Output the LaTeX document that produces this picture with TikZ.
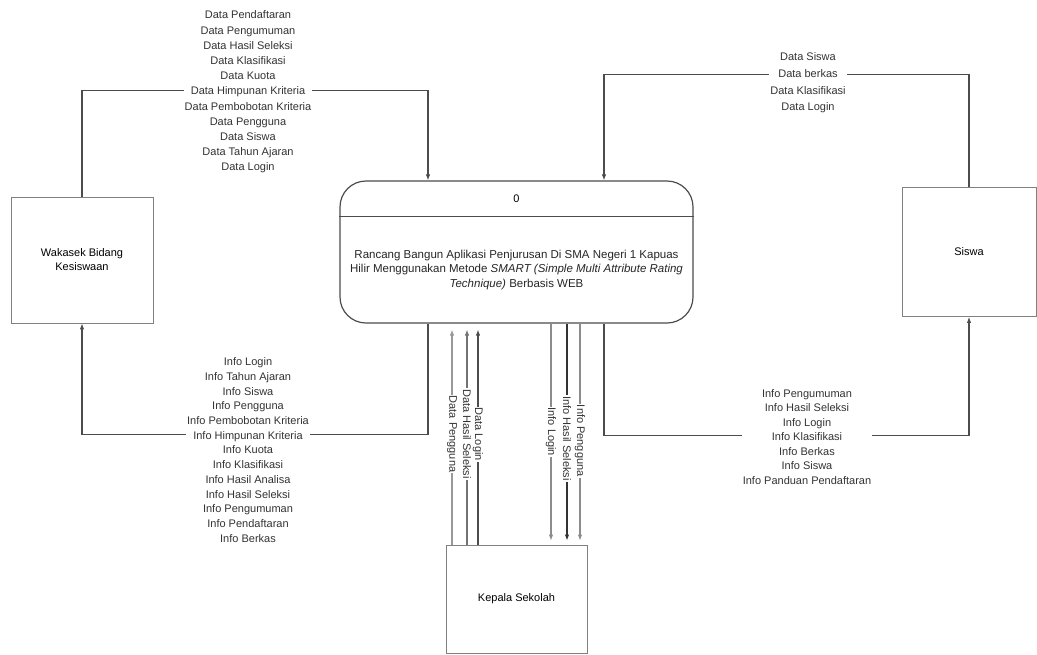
\documentclass[tikz,border=0pt]{standalone}
\usepackage{fontspec}
\setmainfont{Liberation Sans}
\usepackage{tikz}
\usetikzlibrary{arrows.meta}
\usetikzlibrary{positioning}
\tikzset{
    entity/.style={
           rectangle,
           draw=black!50, line width=0.8pt,
           inner sep=2pt,
           text centered,
           align=center,
           },
    process/.style={
           rectangle,
           rounded corners=26pt,
           draw=black!70, line width=1.2pt,
           minimum width=353pt,
           minimum height=142pt,
           },
    flow/.style={
           draw=black!70, line width=1.1pt,
           },
    lbl/.style={
           fill=white,
           inner sep=1pt,
           align=center,
           text=black!80,
           },
    vlbl/.style={
           lbl,
           rotate=-90,
           },
}

\begin{document}
\begin{tikzpicture}[x=1pt,y=-1pt,->,>={Latex[length=6pt,width=4.5pt]},
  font=\fontsize{11}{14}\selectfont]
 \path[use as bounding box, fill=white] (0,0) rectangle (1037,654);

 % process 0 in the middle
 \node[process] (PROC) at (516.5,252) {};
 \node (PROCID) at ([yshift=-18pt]PROC.north) {0};
 \draw[-, draw=black!70, line width=1.2pt]
  ([yshift=-36pt]PROC.north west) -- ([yshift=-36pt]PROC.north east);
 \node[align=center, text=black!85,
  font=\fontsize{11.5}{14.5}\selectfont] (PROCTXT) at ([yshift=-18pt]PROC.center)
 {Rancang Bangun Aplikasi Penjurusan Di SMA Negeri 1 Kapuas\\
  Hilir Menggunakan Metode \textit{SMART (Simple Multi Attribute Rating}\\
  \textit{Technique)} Berbasis WEB};

 % external entities
 \node[entity,		% layout (defined above)
  minimum width=142pt,
  minimum height=126pt,
  left of=PROC,		% left of the process
  node distance=434.5pt,
  yshift=-8pt] (WAKA)
 {Wakasek Bidang\\Kesiswaan};

 \node[entity,
  minimum width=134pt,
  minimum height=129pt,
  right of=PROC,	% right of the process
  node distance=452.5pt] (SISWA)
 {Siswa};

 \node[entity,
  minimum width=141pt,
  minimum height=108pt,
  below of=PROC,	% under the process
  node distance=347pt] (KEPALA)
 {Kepala Sekolah};

 % flows left and right
 \draw[flow] (WAKA.north) -- ++(0,-106) -| ([xshift=-88.5pt]PROC.north);
 \draw[flow] (SISWA.north) -- ++(0,-113) -| ([xshift=87.5pt]PROC.north);
 \draw[flow] ([xshift=-88.5pt]PROC.south) -- ++(0,111) -| (WAKA.south);
 \draw[flow] ([xshift=87.5pt]PROC.south) -- ++(0,112) -| (SISWA.south);

 % flows to and from Kepala Sekolah
 \draw[flow, draw=black!40, shorten >=6pt] ([xshift=-64.5pt]KEPALA.north)
  -- node[vlbl]{Data Pengguna} ([xshift=-64.5pt]PROC.south);
 \draw[flow, draw=black!55, shorten >=6pt] ([xshift=-49.5pt]KEPALA.north)
  -- node[vlbl]{Data Hasil Seleksi} ([xshift=-49.5pt]PROC.south);
 \draw[flow, shorten >=6pt] ([xshift=-38.5pt]KEPALA.north)
  -- node[vlbl]{Data Login} ([xshift=-38.5pt]PROC.south);
 \draw[flow, draw=black!45, shorten >=4pt] ([xshift=34.5pt]PROC.south)
  -- node[vlbl, pos=0.49]{Info Login} ([xshift=34.5pt]KEPALA.north);
 \draw[flow, draw=black!80, line width=1.5pt, shorten >=4pt] ([xshift=50.5pt]PROC.south)
  -- node[vlbl, pos=0.52]{Info Hasil Seleksi} ([xshift=50.5pt]KEPALA.north);
 \draw[flow, draw=black!45, shorten >=4pt] ([xshift=63.5pt]PROC.south)
  -- node[vlbl, pos=0.53]{Info Pengguna} ([xshift=63.5pt]KEPALA.north);

 % labels of the left and right flows
 \node[lbl, font=\fontsize{11}{15.2}\selectfont] (DATAWAKA) at (248,92)
 {Data Pendaftaran\\Data Pengumuman\\Data Hasil Seleksi\\Data Klasifikasi\\
  Data Kuota\\Data Himpunan Kriteria\\Data Pembobotan Kriteria\\Data Pengguna\\
  Data Siswa\\Data Tahun Ajaran\\Data Login};
 \node[lbl, font=\fontsize{11}{16.7}\selectfont] (DATASISWA) at (808,83)
 {Data Siswa\\Data berkas\\Data Klasifikasi\\Data Login};
 \node[lbl, font=\fontsize{11}{14.7}\selectfont] (INFOWAKA) at (248,450)
 {Info Login\\Info Tahun Ajaran\\Info Siswa\\Info Pengguna\\
  Info Pembobotan Kriteria\\Info Himpunan Kriteria\\Info Kuota\\Info Klasifikasi\\
  Info Hasil Analisa\\Info Hasil Seleksi\\Info Pengumuman\\Info Pendaftaran\\
  Info Berkas};
 \node[lbl, font=\fontsize{11}{14.5}\selectfont] (INFOSISWA) at (807,437)
 {Info Pengumuman\\Info Hasil Seleksi\\Info Login\\Info Klasifikasi\\
  Info Berkas\\Info Siswa\\Info Panduan Pendaftaran};
\end{tikzpicture}
\end{document}
